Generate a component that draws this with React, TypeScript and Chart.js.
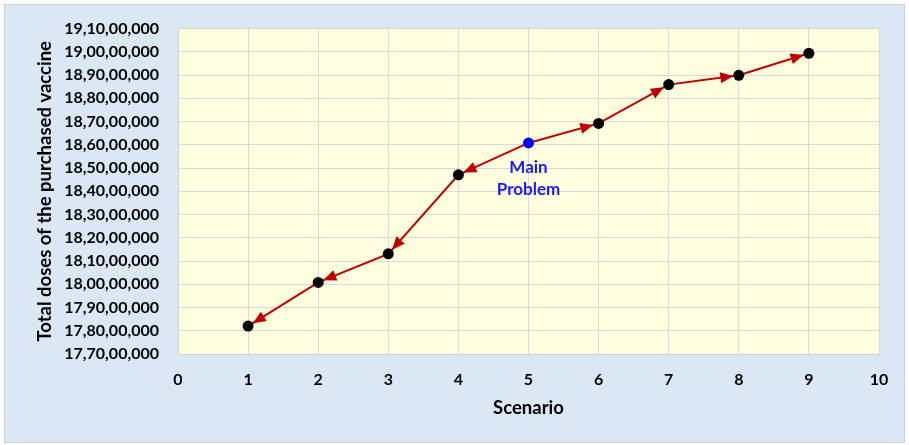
import React, { useEffect, useRef } from "react";
import { Chart, registerables } from "chart.js";

Chart.register(...registerables);

const scenarios = [1, 2, 3, 4, 5, 6, 7, 8, 9];
const totalDoses = [178200000, 180080000, 181310000, 184710000, 186080000, 186920000, 188590000, 188990000, 189940000];
const mainProblemIndex = 4;
const mainProblemLabel = ["Main", "Problem"];
const xMin = 0;
const xMax = 10;
const yMin = 177000000;
const yMax = 191000000;
const yStep = 1000000;
const xTitle = "Scenario";
const yTitle = "Total doses of the purchased vaccine";

const FONT = "Lato, 'Open Sans', sans-serif";

function formatIndian(n: number): string {
  const s = String(Math.round(n));
  if (s.length <= 3) return s;
  const last3 = s.slice(-3);
  const rest = s.slice(0, -3).replace(/\B(?=(\d{2})+(?!\d))/g, ",");
  return rest + "," + last3;
}

const framePlugin = {
  id: "frame",
  beforeDraw(chart: any) {
    const { ctx, chartArea } = chart;
    ctx.save();
    ctx.fillStyle = "#ffffff";
    ctx.fillRect(0, 0, chart.width, chart.height);
    ctx.fillStyle = "#dae7f5";
    ctx.fillRect(4, 4, chart.width - 8, chart.height - 6);
    ctx.strokeStyle = "#d0d0d0";
    ctx.lineWidth = 1;
    ctx.strokeRect(4.5, 4.5, chart.width - 9, chart.height - 7);
    ctx.fillStyle = "#ffffe0";
    ctx.fillRect(chartArea.left, chartArea.top, chartArea.right - chartArea.left, chartArea.bottom - chartArea.top);
    ctx.restore();
  },
};

const arrowPlugin = {
  id: "arrows",
  afterDatasetsDraw(chart: any) {
    const { ctx } = chart;
    const meta = chart.getDatasetMeta(0);
    const pts = meta.data;
    const r = 5.5;
    const len = 13;
    const half = 5.5;
    ctx.save();
    ctx.fillStyle = "#c00000";
    for (let i = 0; i < pts.length; i++) {
      if (i === mainProblemIndex) continue;
      const from = i < mainProblemIndex ? pts[i + 1] : pts[i - 1];
      const to = pts[i];
      const dx = to.x - from.x;
      const dy = to.y - from.y;
      const d = Math.hypot(dx, dy);
      const ux = dx / d;
      const uy = dy / d;
      const tipX = to.x - ux * r;
      const tipY = to.y - uy * r;
      const bx = tipX - ux * len;
      const by = tipY - uy * len;
      ctx.beginPath();
      ctx.moveTo(tipX, tipY);
      ctx.lineTo(bx - uy * half, by + ux * half);
      ctx.lineTo(bx + uy * half, by - ux * half);
      ctx.closePath();
      ctx.fill();
    }
    const p = pts[mainProblemIndex];
    ctx.fillStyle = "#1a1aff";
    ctx.font = `bold 17px ${FONT}`;
    ctx.textAlign = "center";
    ctx.textBaseline = "middle";
    ctx.fillText(mainProblemLabel[0], p.x, p.y + 25);
    ctx.fillText(mainProblemLabel[1], p.x, p.y + 47);
    ctx.restore();
  },
};

export default function App() {
  const ref = useRef<HTMLCanvasElement>(null);
  useEffect(() => {
    if (!ref.current) return;
    const data = scenarios.map((x, i) => ({ x, y: totalDoses[i] }));
    const chart = new Chart(ref.current, {
      type: "line",
      data: {
        datasets: [
          {
            data,
            borderColor: "#c00000",
            borderWidth: 2,
            pointRadius: 5.5,
            pointHoverRadius: 5.5,
            pointBackgroundColor: scenarios.map((_, i) => (i === mainProblemIndex ? "#0000ff" : "#000000")),
            pointBorderColor: scenarios.map((_, i) => (i === mainProblemIndex ? "#0000ff" : "#000000")),
            pointBorderWidth: 0,
            tension: 0,
          },
        ],
      },
      options: {
        animation: false,
        responsive: false,
        events: [],
        layout: { padding: { left: 20, right: 30, top: 27, bottom: 0 } },
        plugins: { legend: { display: false }, tooltip: { enabled: false } },
        scales: {
          x: {
            type: "linear",
            min: xMin,
            max: xMax,
            afterFit(scale: any) {
              scale.height = 91;
            },
            ticks: {
              stepSize: 1,
              padding: 16,
              color: "#000000",
              font: { family: FONT, size: 16, weight: "bold" },
              maxRotation: 0,
              autoSkip: false,
            },
            grid: { color: "#d9d9d9", lineWidth: 1, drawTicks: false },
            border: { color: "#d0d0d0", width: 1 },
            title: {
              display: true,
              text: xTitle,
              color: "#000000",
              font: { family: FONT, size: 18.5, weight: "bold" },
              padding: { top: 0, bottom: 26 },
            },
          },
          y: {
            type: "linear",
            min: yMin,
            max: yMax,
            afterFit(scale: any) {
              scale.width = 158;
            },
            ticks: {
              stepSize: yStep,
              padding: 19,
              color: "#000000",
              autoSkip: false,
              font: { family: FONT, size: 16, weight: "bold" },
              callback: (v: any) => formatIndian(Number(v)),
            },
            grid: { color: "#d9d9d9", lineWidth: 1, drawTicks: false },
            border: { color: "#d0d0d0", width: 1 },
            title: {
              display: true,
              text: yTitle,
              color: "#000000",
              font: { family: FONT, size: 18.5, weight: "bold" },
              padding: { top: 14, bottom: 0 },
            },
          },
        },
      },
      plugins: [framePlugin, arrowPlugin],
    });
    return () => chart.destroy();
  }, []);
  return (
    <div style={{ position: "absolute", left: 0, top: 0, width: 909, height: 445 }}>
      <canvas ref={ref} width={909} height={445} style={{ display: "block" }} />
    </div>
  );
}
